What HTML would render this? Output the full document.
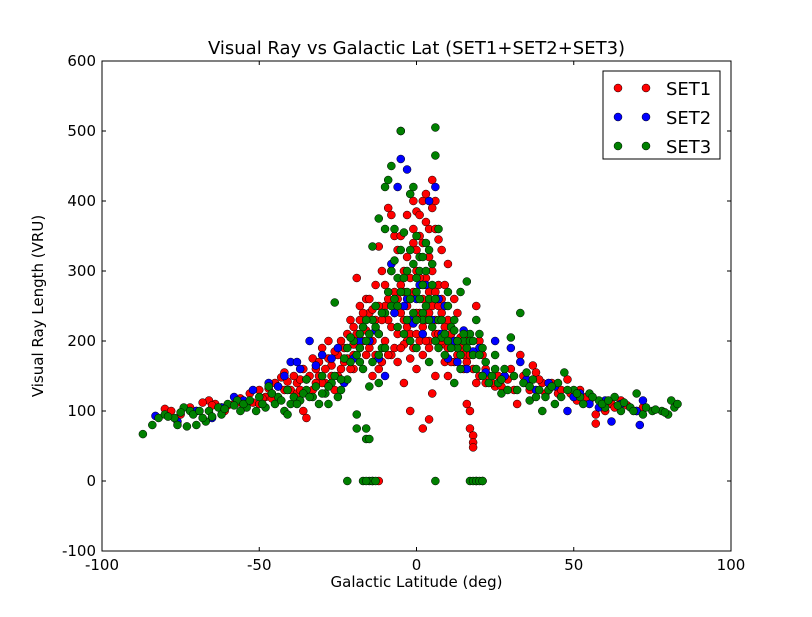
<!DOCTYPE html>
<html><head><meta charset="utf-8">
<style>
body{margin:0;background:#fff;width:812px;height:612px;overflow:hidden}
svg text{font-family:"DejaVu Sans","Liberation Sans",sans-serif;fill:#000}
</style></head><body>
<svg id="chart" width="812" height="612" xmlns="http://www.w3.org/2000/svg">
<rect width="812" height="612" fill="#fff"/>
<g id="marks"></g>
<g id="axes"></g>
</svg>
<script>
const xTicks=[-100,-50,0,50,100];
const yTicks=[-100,0,100,200,300,400,500,600];
const seriesNames=["SET1","SET2","SET3"];
const seriesColors=["#ff0000","#0000ff","#008000"];
const set1Points=[[-80,103],[-75,95],[-70,100],[-66,115],[-64,110],[-62,105],[-58,110],[-55,105],[-52,112],[-50,130],[-48,120],[-46,125],[-45,140],[-43,148],[-42,155],[-40,130],[-38,140],[-37,145],[-36,100],[-35,90],[-33,175],[-32,160],[-31,150],[-30,190],[-29,140],[-28,200],[-27,165],[-26,130],[-25,180],[-24,160],[-23,170],[-22,210],[-21,230],[-20,195],[-19,290],[-18,250],[-17,220],[-16,260],[-15,240],[-14,200],[-13,280],[-12,335],[-11,300],[-10,250],[-9,390],[-8,380],[-7,350],[-6,330],[-5,280],[-4,230],[-3,200],[-2,260],[-1,400],[0,385],[0,300],[1,240],[2,400],[3,370],[4,320],[5,430],[6,400],[7,345],[8,330],[4,200],[2,75],[4,88],[-2,100],[-4,140],[5,125],[6,150],[8,240],[9,195],[10,310],[12,260],[13,240],[14,205],[15,180],[16,170],[16,110],[17,100],[17,75],[18,65],[18,55],[18,48],[19,250],[20,200],[21,180],[22,140],[23,150],[25,135],[28,150],[30,160],[32,110],[33,180],[35,140],[37,165],[38,155],[40,140],[42,130],[45,125],[48,145],[50,120],[52,130],[55,115],[57,95],[57,82],[60,100],[62,110],[65,115],[70,100],[72,105],[-8,180],[-6,170],[-4,195],[-2,175],[0,160],[2,180],[4,190],[6,210],[-12,160],[-14,150],[-16,180],[-18,190],[-20,160],[10,150],[12,170],[-3,320],[-1,340],[1,350],[3,290],[-7,270],[-9,230],[7,280],[9,220],[-14,0],[-12,0],[19,0],[21,0],
[-78,100],[-72,105],[-68,112],[-60,108],[-56,118],[-53,125],[-49,118],[-47,132],[-44,135],[-41,142],[-39,150],[-38,125],[-36,160],[-34,150],[-33,130],[-31,170],[-30,140],[-29,160],[-28,175],[-27,150],[-26,185],[-25,150],[-24,200],[-23,190],[-22,175],[-21,160],[-20,180],[-20,220],[-19,210],[-18,230],[-17,240],[-17,200],[-16,215],[-15,190],[-15,260],[-14,245],[-13,230],[-13,180],[-12,210],[-12,250],[-11,230],[-11,170],[-10,200],[-10,280],[-9,260],[-9,180],[-8,220],[-8,300],[-7,240],[-7,190],[-6,260],[-6,210],[-5,240],[-5,190],[-5,350],[-4,300],[-4,270],[-3,250],[-3,220],[-3,380],[-2,290],[-2,210],[-1,270],[-1,190],[-1,360],[0,240],[0,210],[0,330],[1,290],[1,200],[1,380],[2,260],[2,220],[2,340],[3,230],[3,200],[3,410],[4,270],[4,240],[4,360],[5,250],[5,300],[5,390],[6,230],[6,270],[6,360],[7,210],[7,250],[8,200],[8,260],[9,280],[9,170],[10,230],[10,190],[11,210],[11,170],[12,200],[13,180],[14,190],[15,160],[16,200],[17,180],[18,160],[19,140],[20,150],[22,160],[24,140],[26,150],[27,135],[29,145],[31,130],[34,150],[36,130],[39,145],[41,125],[43,140],[46,130],[49,125],[51,115],[54,120],[59,112],[63,105],[67,108],[-65,108],[-61,100],[-57,112],[-50,110],[-46,118],[-42,130],[-37,130],[-35,145],[-32,140]];
const set2Points=[[-83,93],[-76,85],[-65,90],[-58,120],[-52,130],[-47,140],[-42,150],[-40,170],[-37,160],[-34,200],[-30,180],[-27,175],[-23,140],[-20,175],[-15,200],[-12,175],[-8,310],[-6,420],[-5,460],[-5,500],[-3,445],[-2,230],[0,260],[2,210],[4,400],[6,420],[7,260],[9,250],[12,200],[16,160],[20,190],[25,200],[30,190],[33,170],[38,130],[42,140],[48,100],[50,120],[55,110],[58,105],[62,85],[65,110],[70,100],[71,80],[72,115],[-10,150],[-4,250],[3,280],[-1,225],[10,175],[15,215],
[-44,135],[-38,170],[-32,165],[-25,190],[-18,200],[-13,215],[-7,240],[-3,260],[1,280],[5,230],[8,210],[13,170],[18,185],[22,155],[28,150],[35,145],[44,135],[52,125],[60,115],[-55,115],[-62,105],[-70,100]];
const set3Points=[[-87,67],[-84,80],[-82,90],[-80,95],[-77,90],[-76,80],[-74,105],[-72,100],[-70,80],[-67,85],[-66,100],[-63,105],[-60,110],[-57,115],[-54,105],[-51,100],[-50,120],[-47,135],[-45,110],[-44,120],[-42,100],[-41,95],[-40,110],[-39,120],[-37,115],[-35,130],[-33,120],[-31,110],[-29,125],[-27,140],[-26,255],[-25,120],[-24,130],[-22,145],[-21,170],[-20,200],[-19,75],[-19,95],[-18,210],[-17,160],[-16,75],[-16,60],[-15,60],[-15,135],[-14,335],[-13,220],[-12,375],[-12,140],[-11,190],[-10,360],[-10,420],[-9,430],[-8,450],[-7,315],[-6,290],[-5,500],[-4,355],[-3,270],[-2,410],[-1,420],[0,350],[0,290],[1,320],[2,240],[3,340],[4,260],[5,280],[6,505],[6,465],[7,360],[7,230],[8,205],[9,180],[10,270],[11,220],[12,215],[13,190],[14,270],[15,200],[16,285],[17,210],[18,180],[19,230],[20,210],[21,190],[22,170],[24,150],[26,140],[28,160],[30,205],[32,130],[33,240],[35,155],[37,145],[39,130],[40,100],[42,130],[45,140],[47,155],[50,130],[52,120],[55,125],[58,115],[60,105],[63,120],[65,100],[68,105],[70,125],[72,95],[75,100],[78,100],[80,95],[81,115],[82,105],[83,110],[-22,0],[-17,0],[-15,0],[-14,0],[-13,0],[6,0],[17,0],[18,0],[19,0],[20,0],[21,0],[-16,0],[-8,250],[-6,220],[-4,210],[-2,200],[0,190],[2,230],[4,170],[-10,240],[-12,210],[-14,230],[-16,200],[-18,170],[12,140],[14,160],[-30,150],[-35,145],[-28,110],[25,180],[27,125],[36,115],[44,110],[-48,105],[-55,110],[-62,95],[-68,90],[-73,78],
[-79,92],[-75,98],[-71,95],[-69,100],[-65,92],[-61,103],[-58,108],[-56,100],[-53,115],[-49,110],[-46,125],[-43,115],[-41,130],[-38,110],[-36,125],[-34,120],[-32,135],[-30,125],[-28,135],[-26,150],[-24,145],[-23,175],[-22,190],[-21,205],[-19,180],[-18,190],[-17,220],[-16,230],[-15,210],[-14,170],[-13,250],[-12,180],[-11,240],[-10,190],[-9,270],[-8,300],[-7,260],[-7,360],[-6,250],[-5,330],[-5,270],[-4,290],[-3,300],[-3,230],[-2,260],[-2,330],[-1,310],[-1,240],[0,270],[0,230],[1,260],[1,300],[2,280],[2,320],[3,250],[3,300],[4,230],[4,330],[5,220],[5,310],[6,260],[6,200],[7,190],[8,230],[9,210],[10,200],[10,250],[11,190],[12,230],[13,200],[14,180],[15,210],[16,190],[17,200],[18,200],[19,160],[20,180],[21,150],[23,140],[25,160],[27,145],[29,130],[31,150],[34,140],[36,135],[38,120],[41,120],[43,135],[46,120],[48,130],[51,125],[53,110],[56,120],[59,110],[61,115],[64,108],[66,112],[69,100],[73,105],[76,102],[79,98]];
const allSets=[set1Points,set2Points,set3Points];

const L=102,R=731,T=61,B=551,NS="http://www.w3.org/2000/svg";
const X=v=>L+(v+100)/200*(R-L);
const Y=v=>B-(v+100)/700*(B-T);
function mk(tag,attrs,parent){const e=document.createElementNS(NS,tag);for(const k in attrs)e.setAttribute(k,attrs[k]);parent.appendChild(e);return e;}
const marks=document.getElementById('marks'),axes=document.getElementById('axes');
allSets.forEach((pts,si)=>{
  const g=mk('g',{},marks);
  
  
  pts.forEach(p=>{
    const c=mk('circle',{cx:X(p[0]),cy:Y(p[1]),r:4,fill:seriesColors[si],stroke:'#000','stroke-width':0.5},g);
    
    
  });
});
const frame=mk('rect',{x:L,y:T,width:R-L,height:B-T,fill:'none',stroke:'#000','stroke-width':1},axes);


xTicks.forEach(t=>{
  const x=X(t);
  mk('line',{x1:x,x2:x,y1:B,y2:B-4,stroke:'#000'},axes);
  mk('line',{x1:x,x2:x,y1:T,y2:T+4,stroke:'#000'},axes);
  const tx=mk('text',{x:x,y:B+19,'text-anchor':'middle','font-size':15},axes);
  tx.textContent=t;
  
  
});
yTicks.forEach(t=>{
  const y=Y(t);
  mk('line',{x1:L,x2:L+4,y1:y,y2:y,stroke:'#000'},axes);
  mk('line',{x1:R,x2:R-4,y1:y,y2:y,stroke:'#000'},axes);
  const tx=mk('text',{x:L-6,y:y+5,'text-anchor':'end','font-size':15},axes);
  tx.textContent=t;
  
  
});
const title=mk('text',{x:(L+R)/2,y:54,'text-anchor':'middle','font-size':18},axes);
title.textContent='Visual Ray vs Galactic Lat (SET1+SET2+SET3)';


const xl=mk('text',{x:(L+R)/2,y:587,'text-anchor':'middle','font-size':15},axes);
xl.textContent='Galactic Latitude (deg)';


const yl=mk('text',{x:0,y:0,'text-anchor':'middle','font-size':15,transform:'translate(43,306) rotate(-90)'},axes);
yl.textContent='Visual Ray Length (VRU)';


const leg=mk('g',{},axes);


mk('rect',{x:603,y:71,width:117,height:88,fill:'#fff',stroke:'#000'},leg);
seriesNames.forEach((n,i)=>{
  const y=88+i*29;
  const e=mk('g',{},leg);
  
  
  mk('circle',{cx:618,cy:y,r:4,fill:seriesColors[i],stroke:'#000','stroke-width':0.5},e);
  mk('circle',{cx:646,cy:y,r:4,fill:seriesColors[i],stroke:'#000','stroke-width':0.5},e);
  const t=mk('text',{x:666,y:y+7,'font-size':18},e);
  t.textContent=n;
});
</script>
</body></html>
